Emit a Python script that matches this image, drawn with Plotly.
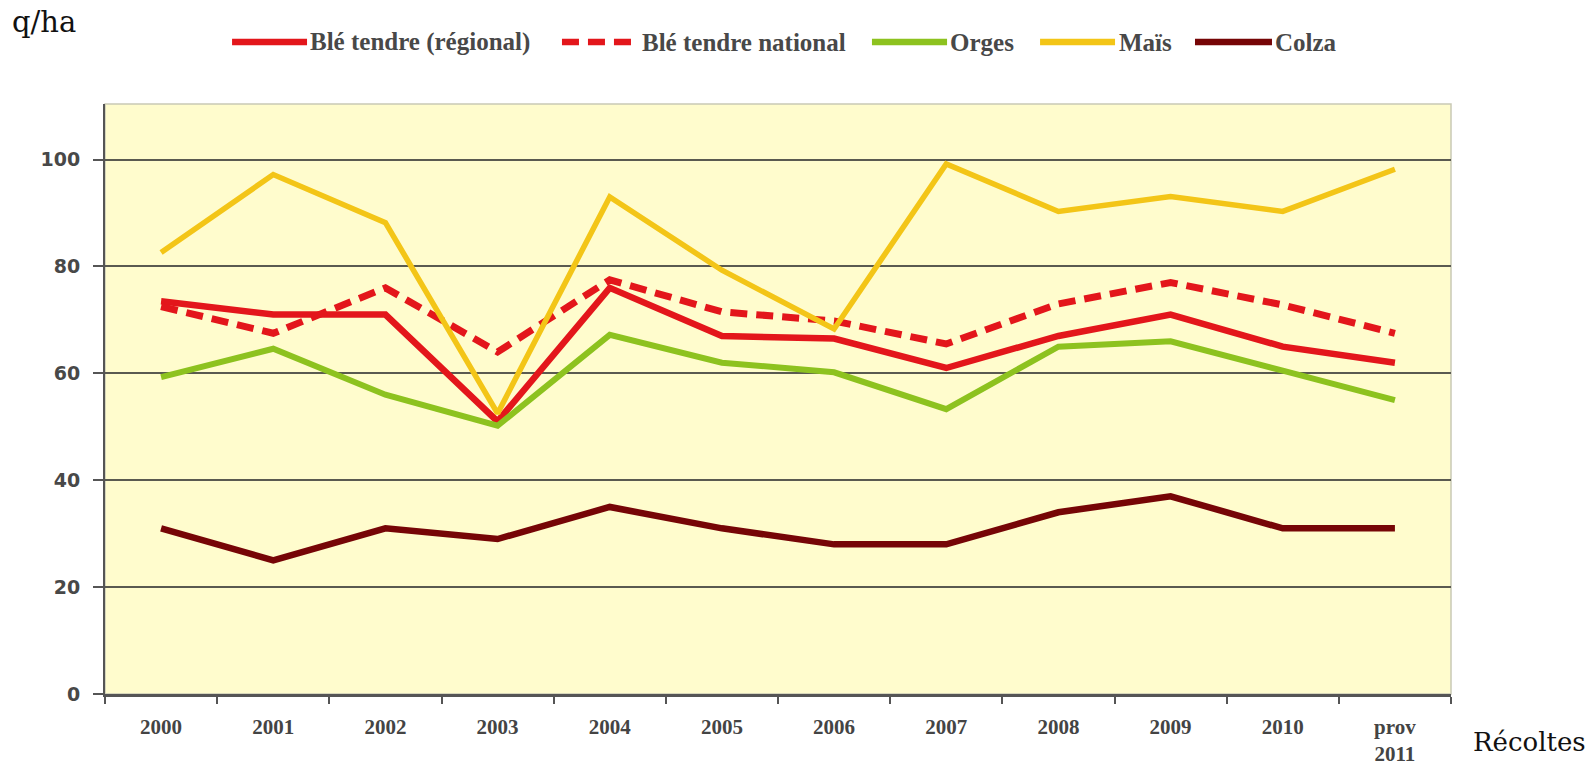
import plotly.graph_objects as go

categories = ["2000", "2001", "2002", "2003", "2004", "2005", "2006", "2007",
              "2008", "2009", "2010", "prov<br>2011"]
ble_regional = [73.5, 71, 71, 51, 76, 67, 66.5, 61, 67, 71, 65, 62]
ble_national = [72.5, 67.5, 76, 64, 77.5, 71.5, 69.8, 65.5, 73, 77, 72.8, 67.5]
orges = [59.3, 64.6, 56, 50.2, 67.2, 62, 60.2, 53.3, 65, 66, 60.5, 55]
mais = [82.6, 97.2, 88.2, 52.5, 93, 79.3, 68.3, 99.2, 90.3, 93.1, 90.3, 98.2]
colza = [31, 25, 31, 29, 35, 31, 28, 28, 34, 37, 31, 31]

series = [
    ("Blé tendre (régional)", ble_regional, "#E3161B", "solid", 6.5),
    ("Blé tendre national", ble_national, "#E3161B", "17px,9px", 7),
    ("Orges", orges, "#8DC21F", "solid", 6),
    ("Maïs", mais, "#F3C517", "solid", 5.5),
    ("Colza", colza, "#760506", "solid", 6.5),
]

# legend layout (paper coordinates): line start, line end, text start
legend_pos = [(0.0944, 0.1501, 0.1505), (0.3395, 0.3952, 0.3972),
              (0.5698, 0.6256, 0.6262), (0.6947, 0.7504, 0.7522),
              (0.8098, 0.8670, 0.8675)]
legend_y = 1.105

fig = go.Figure()
shapes = [dict(type="rect", xref="paper", yref="paper", x0=0, x1=1, y0=0, y1=1,
               line=dict(color="#c9c9b5", width=1.5), layer="below")]
annotations = []
for (name, vals, color, dash, w), (lx0, lx1, tx) in zip(series, legend_pos):
    fig.add_trace(go.Scatter(x=categories, y=vals, name=name, mode="lines",
                             line=dict(color=color, width=w, dash=dash)))
    shapes.append(dict(type="line", xref="paper", yref="paper", x0=lx0, x1=lx1,
                       y0=legend_y, y1=legend_y,
                       line=dict(color=color, width=6.5, dash=dash)))
    annotations.append(dict(text=name, xref="paper", yref="paper", x=tx, y=legend_y,
                            xanchor="left", yanchor="middle", showarrow=False,
                            font=dict(family="Liberation Serif, serif", size=25,
                                      color="#484848", weight="bold")))

annotations += [
    dict(text="q/ha", xref="paper", yref="paper", x=-0.0705, y=1.139,
         xanchor="left", yanchor="middle", showarrow=False,
         font=dict(family="DejaVu Serif, serif", size=29, color="#111111")),
    dict(text="Récoltes", xref="paper", yref="paper", x=1.0150, y=-0.082,
         xanchor="left", yanchor="middle", showarrow=False,
         font=dict(family="DejaVu Serif, serif", size=26, color="#111111")),
]

fig.update_layout(
    width=1588, height=772,
    margin=dict(l=105, r=137, t=104, b=78, autoexpand=False),
    paper_bgcolor="white",
    plot_bgcolor="#FFFCCD",
    showlegend=False,
    xaxis=dict(type="category", tickson="boundaries", ticks="outside", ticklen=7,
               tickwidth=2, tickcolor="#555555", showline=True, linecolor="#555555",
               linewidth=2.5, showgrid=False, ticklabelstandoff=12,
               tickfont=dict(family="Liberation Serif, serif", size=21,
                             color="#444444", weight="bold"),
               range=[-0.5, 11.5], automargin=False),
    yaxis=dict(range=[0, 110.4], dtick=20, tick0=0, ticks="outside", ticklen=10,
               tickwidth=2, tickcolor="#555555", showline=True, linecolor="#555555",
               linewidth=2, showgrid=True, gridcolor="#5a5a50", gridwidth=1.6,
               zeroline=False, ticklabelstandoff=9, automargin=False,
               tickfont=dict(family="DejaVu Sans, Verdana, sans-serif", size=19,
                             color="#484848", weight="bold")),
    shapes=shapes,
    annotations=annotations,
)

fig.write_html("out.html", config={"displayModeBar": False},
               post_script="document.body.style.margin='0';document.body.style.padding='0';")
